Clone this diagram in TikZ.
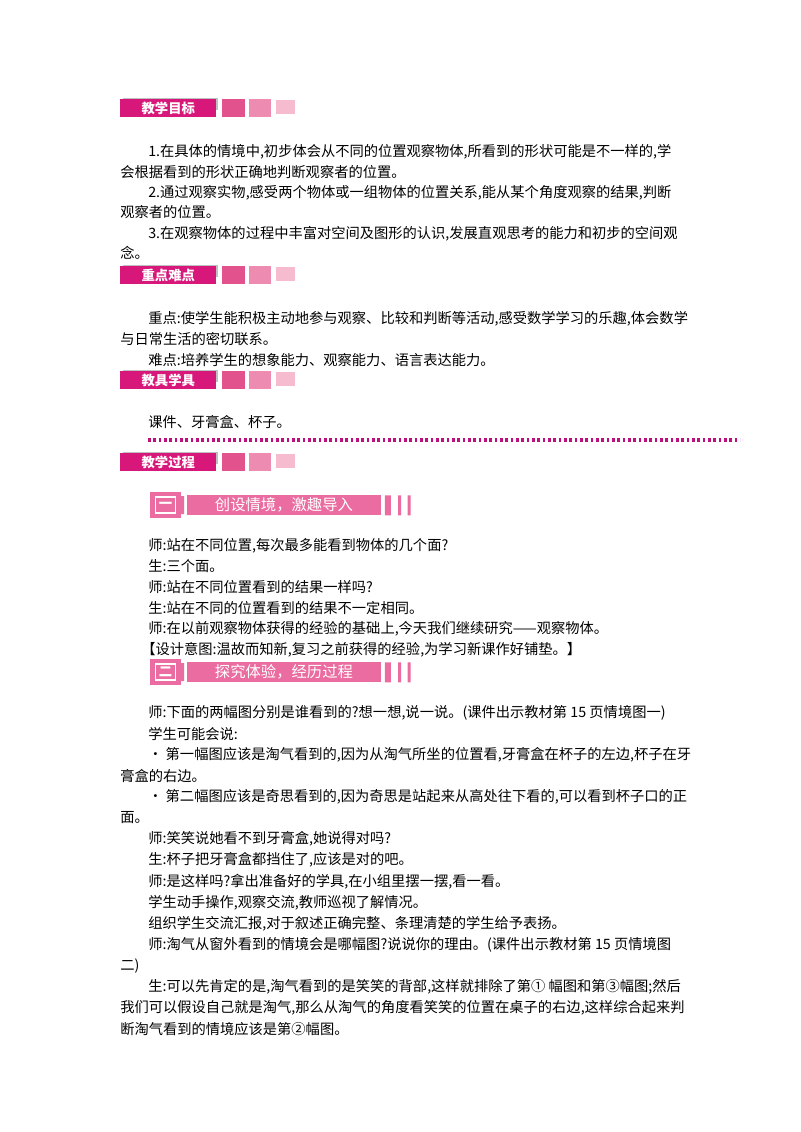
\documentclass[tikz,border=0pt]{standalone}
\usepackage{fontspec}
\setmainfont{Noto Sans CJK SC}
\definecolor{hdrred}{HTML}{D8177A}
\definecolor{sqa}{HTML}{E2538E}
\definecolor{sqb}{HTML}{EE8BB0}
\definecolor{sqc}{HTML}{F6BBCF}
\definecolor{bnpink}{HTML}{EA6CA0}
\tikzset{
  ln/.style={anchor=west,inner sep=0pt,font=\fontsize{10.7}{12}\selectfont},
  hdr/.style={fill=hdrred,text=white,anchor=west,minimum width=72pt,minimum height=14pt,inner sep=0pt,font=\fontsize{10}{12}\selectfont\bfseries,drop/.style={}},
  sq/.style={minimum width=16pt,minimum height=13pt,inner sep=0pt,anchor=west},
  bn/.style={fill=bnpink,text=white,anchor=west,minimum height=15pt,inner sep=2pt,font=\fontsize{11.5}{13}\selectfont}
}
\newcommand\header[3]{%
  \fill[gray!50] (123,-#2-2) rectangle (218,-#2+10);
  \node[hdr] (#3) at (120,-#2) {#1};
  \node[sq,fill=sqa,minimum width=17pt] (#3a) at (222,-#2) {};
  \node[sq,fill=sqb] (#3b) at (249,-#2) {};
  \node[sq,fill=sqc,minimum width=14pt,minimum height=11pt] (#3c) at (276,-#2+1) {};
}
\newcommand\banner[4]{%
  \node[fill=bnpink,anchor=west,minimum width=23pt,minimum height=19pt,inner sep=0pt] (#3n) at (150,-#2) {};
  \node[draw=white,line width=1pt,fill=bnpink,text=white,minimum width=15pt,minimum height=12pt,inner sep=0pt,font=\bfseries] at (#3n) {#1};
  \fill[bnpink] (176,-#2-9) rectangle +(3,18) (181,-#2-9) rectangle +(3,18);
  \node[bn,minimum width=#4] (#3) at (187,-#2) {#3};
  \fill[bnpink] ([xshift=3]#3.south east) rectangle +(6,20) ([xshift=13]#3.south east) rectangle +(3,20) ([xshift=20]#3.south east) rectangle +(3,20);
}
\begin{document}
\begin{tikzpicture}[x=0.75pt,y=0.75pt]
\useasboundingbox (0,0) rectangle (800,-1132);
% 教学目标
\header{教学目标}{108}{mubiao}
\node[ln] (t1) at (148,-152) {1.在具体的情境中,初步体会从不同的位置观察物体,所看到的形状可能是不一样的,学};
\node[ln] (t2) at (120,-172) {会根据看到的形状正确地判断观察者的位置。};
\node[ln] (t3) at (148,-193) {2.通过观察实物,感受两个物体或一组物体的位置关系,能从某个角度观察的结果,判断};
\node[ln] (t4) at (120,-212) {观察者的位置。};
\node[ln] (t5) at (148,-234) {3.在观察物体的过程中丰富对空间及图形的认识,发展直观思考的能力和初步的空间观};
\node[ln] (t6) at (120,-253) {念。};
% 重点难点
\header{重点难点}{275}{nandian}
\node[ln] (z1) at (148,-319) {重点:使学生能积极主动地参与观察、比较和判断等活动,感受数学学习的乐趣,体会数学};
\node[ln] (z2) at (120,-339) {与日常生活的密切联系。};
\node[ln] (z3) at (148,-360) {难点:培养学生的想象能力、观察能力、语言表达能力。};
% 教具学具
\header{教具学具}{380}{jiaoju}
\node[ln] (j1) at (148,-422) {课件、牙膏盒、杯子。};
\draw[hdrred!70!violet,line width=2.5pt,dash pattern=on 2pt off 2pt] (148,-440) -- (740,-440);
% 教学过程
\header{教学过程}{462}{guocheng}
\banner{一}{505}{创设情境，激趣导入}{145pt}
\node[ln] (a1) at (148,-546) {师:站在不同位置,每次最多能看到物体的几个面?};
\node[ln] (a2) at (148,-566) {生:三个面。};
\node[ln] (a3) at (148,-587) {师:站在不同位置看到的结果一样吗?};
\node[ln] (a4) at (148,-608) {生:站在不同的位置看到的结果不一定相同。};
\node[ln] (a5) at (148,-629) {师:在以前观察物体获得的经验的基础上,今天我们继续研究——观察物体。};
\node[ln] (a6) at (141,-650) {【设计意图:温故而知新,复习之前获得的经验,为学习新课作好铺垫。】};
\banner{二}{672}{探究体验，经历过程}{145pt}
\node[ln] (b1) at (148,-713) {师:下面的两幅图分别是谁看到的?想一想,说一说。(课件出示教材第 15 页情境图一)};
\node[ln] (b2) at (148,-734) {学生可能会说:};
\node[ln] (b3) at (148,-755) {• 第一幅图应该是淘气看到的,因为从淘气所坐的位置看,牙膏盒在杯子的左边,杯子在牙};
\node[ln] (b4) at (120,-776) {膏盒的右边。};
\node[ln] (b5) at (148,-797) {• 第二幅图应该是奇思看到的,因为奇思是站起来从高处往下看的,可以看到杯子口的正};
\node[ln] (b6) at (120,-818) {面。};
\node[ln] (b7) at (148,-839) {师:笑笑说她看不到牙膏盒,她说得对吗?};
\node[ln] (b8) at (148,-860) {生:杯子把牙膏盒都挡住了,应该是对的吧。};
\node[ln] (b9) at (148,-882) {师:是这样吗?拿出准备好的学具,在小组里摆一摆,看一看。};
\node[ln] (b10) at (148,-903) {学生动手操作,观察交流,教师巡视了解情况。};
\node[ln] (b11) at (148,-924) {组织学生交流汇报,对于叙述正确完整、条理清楚的学生给予表扬。};
\node[ln] (b12) at (148,-945) {师:淘气从窗外看到的情境会是哪幅图?说说你的理由。(课件出示教材第 15 页情境图};
\node[ln] (b13) at (120,-966) {二)};
\node[ln] (b14) at (148,-987) {生:可以先肯定的是,淘气看到的是笑笑的背部,这样就排除了第① 幅图和第③幅图;然后};
\node[ln] (b15) at (120,-1008) {我们可以假设自己就是淘气,那么从淘气的角度看笑笑的位置在桌子的右边,这样综合起来判};
\node[ln] (b16) at (120,-1029) {断淘气看到的情境应该是第②幅图。};
\end{tikzpicture}
\end{document}
